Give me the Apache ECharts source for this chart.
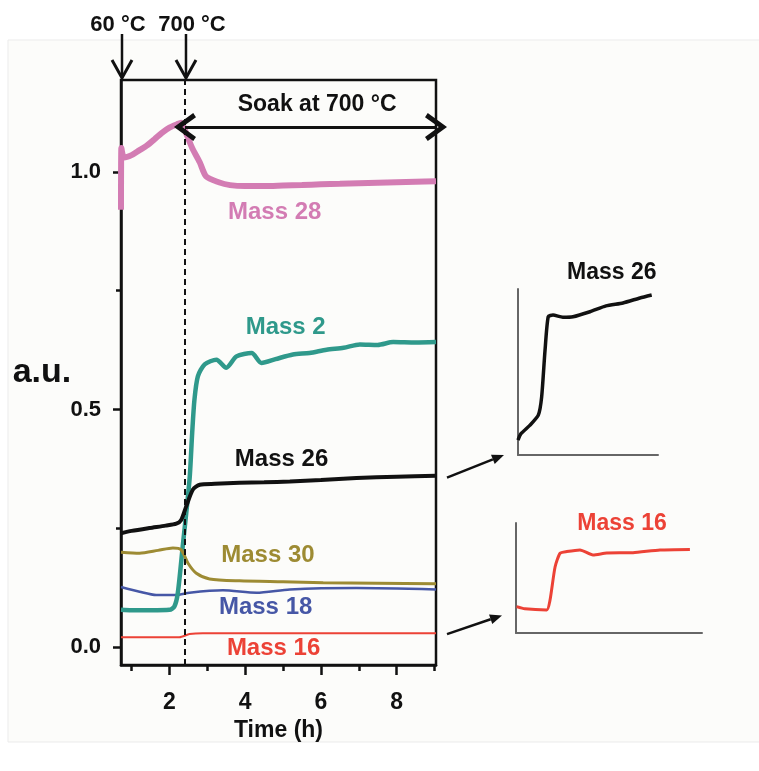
<!DOCTYPE html>
<html>
<head>
<meta charset="utf-8">
<title>Mass signals during heating</title>
<style>
  html, body { margin: 0; width: 100%; height: 100%; background: #fff; }
  #chart { width: 759px; height: 771px; }
</style>
<script src="https://cdn.jsdelivr.net/npm/echarts@6/dist/echarts.min.js"></script>
</head>
<body>
<div id="chart"></div>
<script>
  // [time (h), signal (a.u.)]
  const mass28 = [[0.72, 0.92], [0.73, 1.05], [0.8, 1.03], [1.0, 1.035], [1.2, 1.045], [1.4, 1.055], [1.6, 1.068],
    [1.8, 1.082], [2.0, 1.093], [2.2, 1.1], [2.31, 1.103], [2.4, 1.089], [2.6, 1.05], [2.8, 1.02], [2.97, 0.99],
    [3.3, 0.978], [3.6, 0.972], [4.0, 0.97], [4.5, 0.97], [5.0, 0.971], [5.5, 0.972], [6.0, 0.974], [6.5, 0.975],
    [7.0, 0.976], [7.5, 0.977], [8.0, 0.978], [8.5, 0.979], [9.04, 0.98]];
  const mass2 = [[0.72, 0.079], [1.0, 0.078], [1.5, 0.078], [2.0, 0.079], [2.13, 0.086], [2.22, 0.114], [2.35, 0.212],
    [2.53, 0.353], [2.6, 0.451], [2.66, 0.521], [2.75, 0.57], [2.93, 0.595], [3.24, 0.605], [3.5, 0.588], [3.77, 0.612],
    [4.17, 0.619], [4.43, 0.598], [4.8, 0.606], [5.26, 0.616], [5.7, 0.619], [6.15, 0.626], [6.6, 0.63], [7.03, 0.637],
    [7.5, 0.636], [7.91, 0.642], [8.5, 0.641], [9.04, 0.642]];
  const mass26 = [[0.72, 0.24], [1.0, 0.245], [1.47, 0.251], [1.9, 0.256], [2.18, 0.26], [2.31, 0.268], [2.44, 0.296],
    [2.62, 0.332], [2.8, 0.342], [3.2, 0.344], [3.85, 0.346], [4.5, 0.347], [5.18, 0.349], [6.0, 0.352], [6.94, 0.356],
    [8.0, 0.359], [9.04, 0.361]];
  const mass30 = [[0.72, 0.2], [1.21, 0.198], [1.7, 0.204], [2.09, 0.209], [2.31, 0.205], [2.49, 0.177], [2.71, 0.156],
    [3.06, 0.144], [3.85, 0.14], [5.0, 0.138], [6.06, 0.136], [7.5, 0.135], [9.04, 0.134]];
  const mass18 = [[0.72, 0.127], [1.21, 0.117], [1.65, 0.11], [2.18, 0.11], [2.53, 0.115], [3.41, 0.12], [4.3, 0.115],
    [5.18, 0.122], [6.94, 0.125], [9.04, 0.122]];
  const mass16 = [[0.72, 0.0215], [2.26, 0.0215], [2.53, 0.028], [2.88, 0.03], [9.04, 0.03]];

  // inset traces, arbitrary units (0-10 on both axes)
  const inset26 = [[0, 0.9], [0.2, 1.27], [0.86, 1.8], [1.45, 2.4], [1.69, 3.5], [1.93, 6.3], [2.16, 8.33], [2.5, 8.43],
    [3.2, 8.3], [3.93, 8.33], [5.14, 8.63], [6.29, 8.98], [7.5, 9.16], [8.71, 9.46], [9.55, 9.64]];
  const inset16 = [[0.03, 2.4], [0.48, 2.2], [1.65, 2.1], [1.83, 3.0], [2.1, 6.0], [2.37, 7.25], [2.73, 7.4], [3.44, 7.55],
    [4.14, 7.1], [4.88, 7.27], [6.29, 7.3], [7.74, 7.55], [9.35, 7.6]];

  const xMajorTicks = [2, 4, 6, 8];
  const xMinorTicks = [1, 3, 5, 7, 9];
  const yMajorTicks = [0, 0.5, 1.0];
  const yMinorTicks = [0.25, 0.75];
  const startTime = 0.72;   // 60 °C
  const rampEnd = 2.41;     // 700 °C reached
  const endTime = 9.04;
  const soakLevel = 1.094;

  const FONT = 'Arial, "Liberation Sans", sans-serif';
  const INK = '#111';
  const COLORS = {
    'Mass 28': '#d37cb3',
    'Mass 2': '#2f998b',
    'Mass 26': '#111111',
    'Mass 30': '#9d8b33',
    'Mass 18': '#4657a6',
    'Mass 16': '#ec4236'
  };

  const chart = echarts.init(document.getElementById('chart'), null, { renderer: 'canvas' });

  const chevron = 'path://M10,0 L20,14 L17,16 L10,6 L3,16 L0,14 Z';

  function mainLine(name, data, width, extra) {
    return Object.assign({
      name: name,
      type: 'line',
      xAxisIndex: 0,
      yAxisIndex: 0,
      data: data,
      showSymbol: false,
      symbol: 'none',
      smooth: 0.25,
      lineStyle: { color: COLORS[name], width: width },
      itemStyle: { color: COLORS[name] },
      z: 3
    }, extra || {});
  }

  const hiddenAxisParts = {
    axisLine: { show: false, onZero: false },
    axisLabel: { show: false },
    splitLine: { show: false }
  };

  const insetAxis = idx => ({
    gridIndex: idx, type: 'value', min: 0, max: 10,
    axisLine: { show: true, onZero: false, lineStyle: { color: '#666', width: 2 } },
    axisTick: { show: false }, axisLabel: { show: false }, splitLine: { show: false }
  });

  const option = {
    backgroundColor: '#ffffff',
    animation: false,
    grid: [
      { left: 121, right: 323, top: 80, bottom: 106, show: true, borderColor: INK, borderWidth: 2.5, backgroundColor: 'transparent' },
      { left: 518, top: 289, width: 140, height: 166 },
      { left: 516, top: 523, width: 186, height: 110 }
    ],
    xAxis: [
      {
        gridIndex: 0, type: 'value', min: startTime, max: endTime, position: 'bottom',
        name: 'Time (h)', nameLocation: 'middle', nameGap: 53,
        nameTextStyle: { fontFamily: FONT, fontSize: 23, fontWeight: 'bold', color: INK },
        axisLine: { show: true, onZero: false, lineStyle: { color: INK, width: 2.5 } },
        axisTick: { show: true, customValues: xMajorTicks, length: 10, lineStyle: { color: INK, width: 2.5 } },
        axisLabel: { customValues: xMajorTicks, margin: 26, fontFamily: FONT, fontSize: 23, fontWeight: 'bold', color: INK },
        splitLine: { show: false }
      },
      Object.assign({
        gridIndex: 0, type: 'value', min: startTime, max: endTime, position: 'bottom',
        axisTick: { show: true, customValues: xMinorTicks, length: 6, lineStyle: { color: INK, width: 2.5 } }
      }, hiddenAxisParts),
      insetAxis(1),
      insetAxis(2)
    ],
    yAxis: [
      {
        gridIndex: 0, type: 'value', min: -0.037, max: 1.193, position: 'left',
        axisLine: { show: true, onZero: false, lineStyle: { color: INK, width: 2.5 } },
        axisTick: { show: true, customValues: yMajorTicks, length: 8, lineStyle: { color: INK, width: 2.5 } },
        axisLabel: {
          customValues: yMajorTicks, margin: 20, fontFamily: FONT, fontSize: 22, fontWeight: 'bold', color: INK,
          formatter: v => v.toFixed(1)
        },
        splitLine: { show: false }
      },
      Object.assign({
        gridIndex: 0, type: 'value', min: -0.037, max: 1.193, position: 'left',
        axisTick: { show: true, customValues: yMinorTicks, length: 5, lineStyle: { color: INK, width: 2.5 } }
      }, hiddenAxisParts),
      insetAxis(1),
      insetAxis(2)
    ],
    series: [
      mainLine('Mass 16', mass16, 2, {
        markLine: {
          silent: true, symbol: 'none', label: { show: false },
          lineStyle: { color: INK, width: 2, type: [6, 4] },
          data: [{ xAxis: rampEnd }]
        }
      }),
      mainLine('Mass 18', mass18, 2.5),
      mainLine('Mass 2', mass2, 4.5),
      mainLine('Mass 30', mass30, 3),
      mainLine('Mass 26', mass26, 4),
      mainLine('Mass 28', mass28, 6, {
        markLine: {
          silent: true, symbol: [chevron, chevron], symbolSize: [28, 22], label: { show: false },
          lineStyle: { color: INK, width: 2.8, type: 'solid' },
          data: [[{ coord: [rampEnd, soakLevel] }, { coord: [endTime, soakLevel] }]]
        }
      }),
      {
        name: 'Mass 26 inset', type: 'line', xAxisIndex: 2, yAxisIndex: 2, data: inset26,
        showSymbol: false, smooth: 0.2, lineStyle: { color: COLORS['Mass 26'], width: 3.5 }
      },
      {
        name: 'Mass 16 inset', type: 'line', xAxisIndex: 3, yAxisIndex: 3, data: inset16,
        showSymbol: false, smooth: 0.2, lineStyle: { color: COLORS['Mass 16'], width: 3 }
      }
    ]
  };

  chart.setOption(option);

  // annotations placed from axis coordinates
  const toPx = (x, y) => chart.convertToPixel({ xAxisIndex: 0, yAxisIndex: 0 }, [x, y]);
  const toInset = (idx, x, y) => chart.convertToPixel({ xAxisIndex: idx, yAxisIndex: idx }, [x, y]);

  function text(str, x, y, color, size) {
    return {
      type: 'text', x: x, y: y, z: 10,
      style: {
        text: str, fill: color, font: 'bold ' + size + 'px ' + FONT,
        textAlign: 'center', textVerticalAlign: 'middle'
      }
    };
  }

  function arrow(x1, y1, x2, y2) {
    const dx = x2 - x1, dy = y2 - y1, len = Math.sqrt(dx * dx + dy * dy);
    const ux = dx / len, uy = dy / len, hl = 12, hw = 5;
    const bx = x2 - ux * hl, by = y2 - uy * hl;
    return [
      { type: 'line', z: 10, shape: { x1: x1, y1: y1, x2: bx, y2: by }, style: { stroke: INK, lineWidth: 2.5 } },
      { type: 'polygon', z: 10, shape: { points: [[x2, y2], [bx - uy * hw, by + ux * hw], [bx + uy * hw, by - ux * hw]] }, style: { fill: INK } }
    ];
  }

  function downArrow(x, yTop, yTip) {
    return [
      { type: 'line', z: 10, shape: { x1: x, y1: yTop, x2: x, y2: yTip }, style: { stroke: INK, lineWidth: 2.5 } },
      { type: 'polyline', z: 10, shape: { points: [[x - 10, yTip - 18], [x, yTip], [x + 10, yTip - 18]] }, style: { stroke: INK, lineWidth: 3, fill: null } }
    ];
  }

  const seriesLabels = [
    ['Mass 28', 4.78, 0.915],
    ['Mass 2', 5.07, 0.673],
    ['Mass 26', 4.96, 0.395],
    ['Mass 30', 4.6, 0.193],
    ['Mass 18', 4.54, 0.084],
    ['Mass 16', 4.75, -0.003]
  ];

  const graphics = [
    { type: 'rect', z: -10, shape: { x: 8, y: 40, width: 760, height: 702 }, style: { fill: '#fcfcfa', stroke: '#ebebeb', lineWidth: 1 } }
  ];
  seriesLabels.forEach(([name, x, y]) => {
    const p = toPx(x, y);
    graphics.push(text(name, p[0], p[1], COLORS[name], 24));
  });

  // y axis title
  const mid = toPx(startTime, 0.577);
  graphics.push(text('a.u.', mid[0] - 79, mid[1], INK, 34));

  const topY = toPx(startTime, 1.193)[1];
  const xStart = toPx(startTime, 0)[0] + 1;
  const xRamp = toPx(rampEnd, 0)[0] + 1;
  graphics.push(...downArrow(xStart, 34, topY - 2));
  graphics.push(...downArrow(xRamp, 34, topY - 2));
  graphics.push(text('60 °C', xStart - 4, 25, INK, 22));
  graphics.push(text('700 °C', xRamp + 6, 25, INK, 22));
  const soakPos = toPx(5.9, 1.141);
  graphics.push(text('Soak at 700 °C', soakPos[0], soakPos[1], INK, 23));

  const i26 = toInset(2, 6.7, 10);
  graphics.push(text('Mass 26', i26[0], i26[1] - 16, COLORS['Mass 26'], 23));
  const i16 = toInset(3, 5.7, 10);
  graphics.push(text('Mass 16', i16[0], i16[1] + 1, COLORS['Mass 16'], 23));

  const end26 = toPx(endTime, 0.361);
  const base26 = toInset(2, 0, 0);
  graphics.push(...arrow(end26[0] + 11, end26[1] + 2, base26[0] - 14, base26[1]));
  const end16 = toPx(endTime, 0.03);
  const base16 = toInset(3, 0, 1.6);
  graphics.push(...arrow(end16[0] + 11, end16[1] + 1, base16[0] - 14, base16[1]));

  chart.setOption({ graphic: graphics });
</script>
</body>
</html>
